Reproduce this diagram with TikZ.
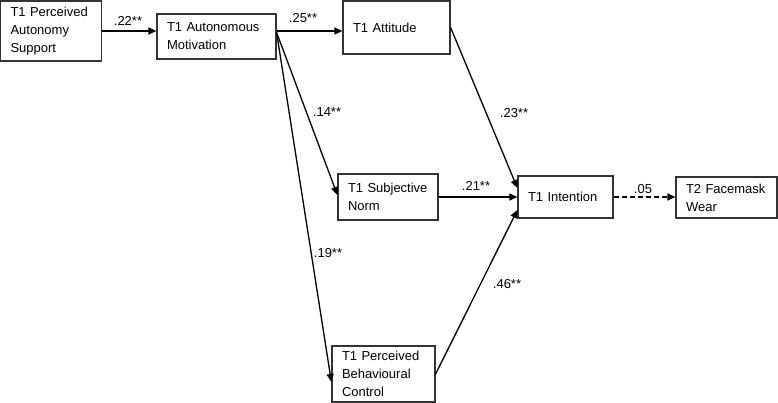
\documentclass[tikz,border=0pt]{standalone}
\usepackage{fontspec}
\setmainfont{Liberation Sans}
\usetikzlibrary{arrows.meta,positioning,calc}

\begin{document}
\begin{tikzpicture}[x=1pt, y=-1pt,
    every node/.style={font=\fontsize{13}{18}\selectfont},
    box/.style={draw=black!80, line width=1.2pt, align=left,
                inner xsep=10pt, inner ysep=0pt},
    lbl/.style={inner sep=0pt},
    arr/.style={-{Triangle[length=8pt,width=7pt]}, line width=1.3pt}
]
  \useasboundingbox (0,0) rectangle (778,403);
  % constructs
  \node[box, text width=81pt, minimum height=60pt] (pas) at (51,31) {T1 Perceived\\Autonomy\\Support};
  \node[box, text width=99pt, minimum height=45pt] (mot) at (216.5,36.5) {T1 Autonomous\\Motivation};
  \node[box, text width=87pt, minimum height=53pt] (att) at (396.5,27.5) {T1 Attitude};
  \node[box, text width=80pt, minimum height=46pt] (sn) at (388,197) {T1 Subjective\\Norm};
  \node[box, text width=83pt, minimum height=56pt] (pbc) at (383.5,374) {T1 Perceived\\Behavioural\\Control};
  \node[box, text width=75pt, minimum height=42pt] (int) at (565.5,197) {T1 Intention};
  \node[box, text width=81pt, minimum height=41pt] (fw) at (726.5,197.5) {T2 Facemask\\Wear};
  % paths
  \draw[arr] (pas.east) -- (pas.east -| mot.west);
  \draw[arr] (pas.east -| mot.east) -- (pas.east -| att.west);
  \draw[arr] ([yshift=4pt]mot.east) -- ([yshift=2pt]sn.west);
  \draw[arr] ([yshift=4pt]mot.east) -- ([yshift=-8pt]pbc.west);
  \draw[arr] (att.east) -- ([yshift=9pt]int.west);
  \draw[arr] (sn.east) -- (sn.east -| int.west);
  \draw[arr] (pbc.east) -- ([yshift=-13pt]int.west);
  \draw[arr, dash pattern=on 5pt off 3pt] (int.east) -- (int.east -| fw.west);
  % coefficients
  \node[lbl] (c22) at (128,21) {.22**};
  \node[lbl] (c25) at (303,18) {.25**};
  \node[lbl] (c14) at (327,112) {.14**};
  \node[lbl] (c19) at (328,253) {.19**};
  \node[lbl] (c23) at (514,113) {.23**};
  \node[lbl] (c21) at (476,186) {.21**};
  \node[lbl] (c46) at (507,284) {.46**};
  \node[lbl] (c05) at (643,189) {.05};
\end{tikzpicture}
\end{document}
